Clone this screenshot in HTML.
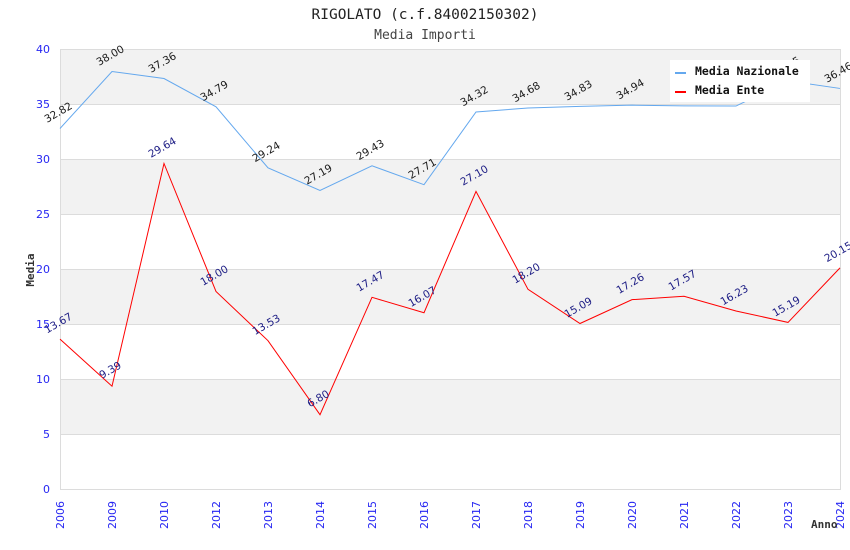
<!DOCTYPE html>
<html>
<head>
<meta charset="utf-8">
<style>
html,body{margin:0;padding:0;background:#fff;}
svg{display:block;}
.lbl{font-family:"DejaVu Sans","Liberation Sans",sans-serif;font-size:10.5px;}
.tick{font-family:"DejaVu Sans","Liberation Sans",sans-serif;font-size:11px;fill:#2626f2;}
.mono{font-family:"DejaVu Sans Mono","Liberation Mono",monospace;}
</style>
</head>
<body>
<svg width="850" height="550" viewBox="0 0 850 550" xmlns="http://www.w3.org/2000/svg">
  <rect width="850" height="550" fill="#fff"/>
  <!-- bands -->
  <rect x="60.5" y="49.5" width="779.5" height="55" fill="#f2f2f2"/>
  <rect x="60.5" y="159.5" width="779.5" height="55" fill="#f2f2f2"/>
  <rect x="60.5" y="269.5" width="779.5" height="55" fill="#f2f2f2"/>
  <rect x="60.5" y="379.5" width="779.5" height="55" fill="#f2f2f2"/>
  <!-- grid -->
  <g stroke="#dcdcdc" stroke-width="1">
    <line x1="60" y1="49.5" x2="840" y2="49.5"/>
    <line x1="60" y1="104.5" x2="840" y2="104.5"/>
    <line x1="60" y1="159.5" x2="840" y2="159.5"/>
    <line x1="60" y1="214.5" x2="840" y2="214.5"/>
    <line x1="60" y1="269.5" x2="840" y2="269.5"/>
    <line x1="60" y1="324.5" x2="840" y2="324.5"/>
    <line x1="60" y1="379.5" x2="840" y2="379.5"/>
    <line x1="60" y1="434.5" x2="840" y2="434.5"/>
    <line x1="60" y1="489.5" x2="840" y2="489.5"/>
    <line x1="60.5" y1="49" x2="60.5" y2="490"/>
    <line x1="840.5" y1="49" x2="840.5" y2="490"/>
  </g>
  <!-- title -->
  <text x="425" y="19" text-anchor="middle" class="mono" font-size="14.5" fill="#222">RIGOLATO (c.f.84002150302)</text>
  <text x="425" y="39" text-anchor="middle" class="mono" font-size="13" fill="#444">Media Importi</text>
  <!-- y ticks -->
  <g class="tick" text-anchor="end">
    <text x="50" y="53">40</text>
    <text x="50" y="108">35</text>
    <text x="50" y="163">30</text>
    <text x="50" y="218">25</text>
    <text x="50" y="273">20</text>
    <text x="50" y="328">15</text>
    <text x="50" y="383">10</text>
    <text x="50" y="438">5</text>
    <text x="50" y="493">0</text>
  </g>
  <!-- x ticks -->
  <g class="tick" text-anchor="end">
    <text transform="translate(64,501) rotate(-90)">2006</text>
    <text transform="translate(116,501) rotate(-90)">2009</text>
    <text transform="translate(168,501) rotate(-90)">2010</text>
    <text transform="translate(220,501) rotate(-90)">2012</text>
    <text transform="translate(272,501) rotate(-90)">2013</text>
    <text transform="translate(324,501) rotate(-90)">2014</text>
    <text transform="translate(376,501) rotate(-90)">2015</text>
    <text transform="translate(428,501) rotate(-90)">2016</text>
    <text transform="translate(480,501) rotate(-90)">2017</text>
    <text transform="translate(532,501) rotate(-90)">2018</text>
    <text transform="translate(584,501) rotate(-90)">2019</text>
    <text transform="translate(636,501) rotate(-90)">2020</text>
    <text transform="translate(688,501) rotate(-90)">2021</text>
    <text transform="translate(740,501) rotate(-90)">2022</text>
    <text transform="translate(792,501) rotate(-90)">2023</text>
    <text transform="translate(844,501) rotate(-90)">2024</text>
  </g>
  <!-- axis titles -->
  <text transform="translate(34,270) rotate(-90)" text-anchor="middle" class="mono" font-size="11" font-weight="bold" fill="#333">Media</text>
  <text x="811" y="528" class="mono" font-size="11" font-weight="bold" fill="#333">Anno</text>
  <!-- series -->
  <polyline fill="none" stroke="#64a8ee" stroke-width="1" points="60,128.48 112,71.5 164,78.54 216,106.81 268,167.86 320,190.41 372,165.77 424,184.69 476,111.98 528,108.02 580,106.37 632,105.16 684,105.93 736,106.04 788,80.85 840,88.44"/>
  <polyline fill="none" stroke="#ff0000" stroke-width="1" points="60,339.13 112,386.21 164,163.46 216,291.5 268,340.67 320,414.7 372,297.33 424,312.73 476,191.4 528,289.3 580,323.51 632,299.64 684,296.23 736,310.97 788,322.41 840,267.85"/>
  <!-- blue labels -->
  <g class="lbl" fill="#1a1a1a" text-anchor="middle">
    <text transform="translate(60,115.5) rotate(-30)">32.82</text>
    <text transform="translate(112,58.5) rotate(-30)">38.00</text>
    <text transform="translate(164,65.5) rotate(-30)">37.36</text>
    <text transform="translate(216,93.8) rotate(-30)">34.79</text>
    <text transform="translate(268,154.9) rotate(-30)">29.24</text>
    <text transform="translate(320,177.4) rotate(-30)">27.19</text>
    <text transform="translate(372,152.8) rotate(-30)">29.43</text>
    <text transform="translate(424,171.7) rotate(-30)">27.71</text>
    <text transform="translate(476,99) rotate(-30)">34.32</text>
    <text transform="translate(528,95) rotate(-30)">34.68</text>
    <text transform="translate(580,93.4) rotate(-30)">34.83</text>
    <text transform="translate(632,92.2) rotate(-30)">34.94</text>
    <text transform="translate(788,69.9) rotate(-30)">37.15</text>
    <text transform="translate(840,75.4) rotate(-30)">36.46</text>
  </g>
  <!-- red labels -->
  <g class="lbl" fill="#1c1c84" text-anchor="middle">
    <text transform="translate(60,326.1) rotate(-30)">13.67</text>
    <text transform="translate(112,373.2) rotate(-30)">9.39</text>
    <text transform="translate(164,150.5) rotate(-30)">29.64</text>
    <text transform="translate(216,278.5) rotate(-30)">18.00</text>
    <text transform="translate(268,327.7) rotate(-30)">13.53</text>
    <text transform="translate(320,401.7) rotate(-30)">6.80</text>
    <text transform="translate(372,284.3) rotate(-30)">17.47</text>
    <text transform="translate(424,299.7) rotate(-30)">16.07</text>
    <text transform="translate(476,178.4) rotate(-30)">27.10</text>
    <text transform="translate(528,276.3) rotate(-30)">18.20</text>
    <text transform="translate(580,310.5) rotate(-30)">15.09</text>
    <text transform="translate(632,286.6) rotate(-30)">17.26</text>
    <text transform="translate(684,283.2) rotate(-30)">17.57</text>
    <text transform="translate(736,298) rotate(-30)">16.23</text>
    <text transform="translate(788,309.4) rotate(-30)">15.19</text>
    <text transform="translate(840,254.9) rotate(-30)">20.15</text>
  </g>
  <!-- legend -->
  <rect x="670" y="60" width="140" height="42" fill="#fff"/>
  <line x1="675" y1="73" x2="686" y2="73" stroke="#64a8ee" stroke-width="2"/>
  <line x1="675" y1="92" x2="686" y2="92" stroke="#ff0000" stroke-width="2"/>
  <text x="695" y="75" class="mono" font-size="11.5" font-weight="bold" fill="#111">Media Nazionale</text>
  <text x="695" y="94" class="mono" font-size="11.5" font-weight="bold" fill="#111">Media Ente</text>
</svg>
</body>
</html>
